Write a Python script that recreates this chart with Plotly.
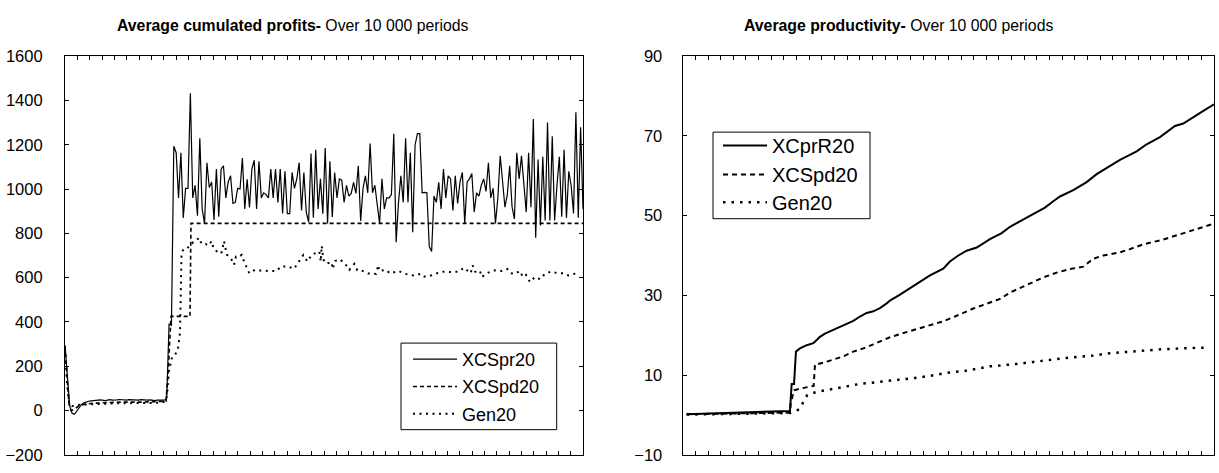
import numpy as np
import plotly.graph_objects as go

W, H = 1219, 473

# ---------------- Left chart: Average cumulated profits ----------------
# XCSpr20 sampled regularly over the 10 000 periods
PR20_VALUES = [
    295, 140, 20, -12, -17, -2, 15, 28, 35, 40, 42,
    44, 46, 45, 47, 48, 46, 45, 47, 49, 47, 46, 48, 50, 48, 46, 47, 49, 48, 46, 45, 47, 49,
    48, 46, 47, 48, 46, 45, 47, 48, 46, 47,
    55, 390, 385, 1193,
    1164, 960, 1164, 870, 1003, 1003, 1432, 960, 1017, 880, 1229, 910, 845, 1119, 1007, 1032,
    860, 1090, 875, 1090, 1105, 960, 1032, 1060, 935, 940, 1003, 1000, 1140, 910, 1044, 917,
    1090, 1130, 910, 1125, 960, 983, 975, 960, 1090, 960, 1090, 940, 1090, 890, 1080, 889,
    889, 1075, 1003, 1046, 1119, 903, 1075, 896, 851, 1160, 870, 1177, 910, 1046, 889, 1185,
    845, 1125, 874, 1075, 960, 1046, 1040, 940, 1017, 968, 980, 1030, 980, 1105, 856, 1003,
    1060, 983, 1205, 983, 1017, 940, 845, 1046, 910, 960, 960, 975, 1250, 760, 940, 1060,
    940, 1229, 940, 1164, 805, 1199, 1250, 1250, 983, 985, 983, 740, 718,
    968, 940, 1030, 910, 1090, 960, 1060, 1046, 903, 1060, 935, 1032, 1075, 845, 1032, 1046,
    1070, 896, 983, 968, 1017, 1046, 989, 1119, 960, 1003, 845, 960, 1150, 1044, 918, 975,
    1105, 920, 865, 1164, 1046, 1150, 1017, 896, 1164, 918, 1316, 780, 1133, 835, 1146, 858,
    1300, 858, 1238, 858, 1017, 1146, 875, 1177, 870, 1080, 1015, 890, 1347, 870, 1279, 910,
]

PD20_PERIODS = [0, 39, 77, 116, 174, 251, 367, 521, 772, 1062, 1448, 1834, 1950, 1998,
                2046, 2413, 2432, 10000]
PD20_VALUES = [290, 150, 30, 0, 5, 18, 28, 33, 36, 38, 38, 40, 42, 200, 425, 425, 845, 845]

GEN20_PERIODS = [
    0, 39, 77, 135, 212, 386, 676, 1062, 1448, 1834,
    1931, 1969, 2008, 2066, 2124, 2181, 2220, 2249, 2272, 2303,
    2349, 2380, 2432, 2477, 2523, 2587, 2639, 2716, 2766, 2832,
    2863, 2915, 2973, 3025, 3070, 3122, 3218, 3263, 3301, 3365,
    3411, 3456, 3519, 3558, 3668, 3764, 3958, 4087, 4164, 4311,
    4421, 4537, 4600, 4678, 4763, 4846, 4910, 4937, 4956, 4975,
    5000, 5052, 5102, 5149, 5168, 5212, 5309, 5342, 5425, 5488,
    5585, 5643, 5728, 5855, 6004, 6048, 6067, 6197, 6274, 6434,
    6583, 6724, 6867, 6930, 7033, 7143, 7303, 7465, 7593, 7703,
    7832, 7871, 7915, 7979, 8012, 8044, 8172, 8301, 8430, 8539,
    8604, 8687, 8784, 8836, 8900, 8977, 9073, 9170, 9266, 9376,
    9523, 9620, 9716, 9813, 9910,
]
GEN20_VALUES = [
    280, 120, 40, 20, 25, 28, 30, 33, 34, 35,
    40, 70, 180, 240, 251, 280, 352, 700, 722, 730,
    730, 738, 752, 760, 765, 780, 752, 752, 745, 765,
    735, 720, 708, 715, 765, 705, 680, 658, 695, 695,
    703, 673, 640, 620, 635, 632, 630, 630, 650, 650,
    640, 680, 702, 673, 703, 712, 718, 673, 744, 707,
    673, 664, 667, 670, 639, 675, 683, 676, 657, 635,
    662, 633, 632, 619, 617, 657, 630, 635, 619, 630,
    617, 610, 617, 605, 607, 617, 627, 625, 627, 645,
    620, 655, 627, 625, 630, 603, 623, 633, 630, 639,
    620, 617, 630, 603, 612, 580, 603, 593, 617, 627,
    620, 620, 610, 617, 620,
]

# ---------------- Right chart: Average productivity ----------------
PRR20_PERIODS = [75, 702, 1455, 1831, 2019, 2051, 2095, 2132, 2207, 2334,
                 2396, 2458, 2522, 2583, 2677, 2772, 2898, 3054, 3211, 3337,
                 3463, 3587, 3713, 3839, 3901, 4090, 4278, 4466, 4654, 4904,
                 5030, 5187, 5345, 5533, 5783, 6004, 6160, 6380, 6598, 6818,
                 6975, 7101, 7351, 7603, 7791, 7980, 8230, 8544, 8732, 8983,
                 9265, 9421, 9673, 9830, 10000]
PRR20_VALUES = [0.2, 0.45, 0.7, 0.85, 1.0, 7.8, 7.8, 15.9, 16.7, 17.5,
                17.8, 18.0, 18.8, 19.6, 20.4, 21.0, 21.6, 22.6, 23.6, 24.7,
                25.6, 26.0, 26.8, 28.0, 28.7, 30.2, 31.8, 33.4, 35.0, 36.7,
                38.5, 40.0, 41.2, 42.0, 44.1, 45.6, 47.2, 48.8, 50.4, 52.0,
                53.6, 54.8, 56.4, 58.4, 60.4, 62.0, 64.0, 66.1, 67.9, 69.7,
                72.5, 73.1, 75.3, 76.5, 77.9]

PDR_PERIODS = [75, 702, 1455, 1831, 2019, 2033, 2095, 2207, 2334, 2428,
               2465, 2490, 2522, 2646, 2834, 3022, 3211, 3399, 3587, 3775,
               3901, 4090, 4372, 4654, 4904, 5125, 5281, 5469, 5721, 5972,
               6160, 6474, 6787, 7039, 7289, 7539, 7728, 7916, 8230, 8418,
               8669, 9045, 9421, 9736, 10000]
PDR_VALUES = [0.2, 0.3, 0.4, 0.5, 0.6, 2.9, 6.2, 6.6, 6.9, 7.2,
              7.3, 12.7, 12.7, 13.1, 13.9, 14.7, 15.9, 16.7, 17.7, 18.7,
              19.5, 20.3, 21.4, 22.5, 23.5, 24.7, 25.7, 26.7, 27.9, 29.1,
              30.7, 32.7, 34.5, 35.7, 36.6, 37.2, 39.2, 40.0, 40.8, 41.6,
              42.8, 44.0, 45.6, 46.8, 48.0]

GENR_PERIODS = [75, 702, 1455, 1831, 2019, 2194, 2270, 2345, 2522, 2678,
                2834, 3022, 3181, 3337, 3493, 3651, 3807, 4090, 4372, 4654,
                4968, 5281, 5783, 6286, 6756, 7227, 7728, 8042, 8544, 9045,
                9547, 9848]
GENR_VALUES = [0.1, 0.2, 0.3, 0.4, 0.5, 1.4, 3.4, 5.0, 5.8, 6.2,
               6.6, 7.0, 7.4, 7.8, 8.0, 8.2, 8.5, 8.9, 9.3, 9.8,
               10.6, 11.0, 12.2, 12.8, 13.6, 14.3, 14.9, 15.5, 16.0, 16.5,
               16.8, 16.9]

LEFT_TICKS = [-200, 0, 200, 400, 600, 800, 1000, 1200, 1400, 1600]
RIGHT_TICKS = [-10, 10, 30, 50, 70, 90]

FONT = "Liberation Sans, Arial, sans-serif"

fig = go.Figure()

x_pr = np.linspace(0, 10000, len(PR20_VALUES))
traces = [
    (x_pr, PR20_VALUES, "XCSpr20", dict(color="black", width=1.2), "x", "y", "legend"),
    (PD20_PERIODS, PD20_VALUES, "XCSpd20", dict(color="black", width=1.6, dash="4px,3px"), "x", "y", "legend2"),
    (GEN20_PERIODS, GEN20_VALUES, "Gen20", dict(color="black", width=2, dash="2px,4.5px"), "x", "y", "legend3"),
    (PRR20_PERIODS, PRR20_VALUES, "XCprR20", dict(color="black", width=2), "x2", "y2", "legend4"),
    (PDR_PERIODS, PDR_VALUES, "XCSpd20", dict(color="black", width=2, dash="5px,4px"), "x2", "y2", "legend5"),
    (GENR_PERIODS, GENR_VALUES, "Gen20", dict(color="black", width=2.5, dash="2.5px,6px"), "x2", "y2", "legend6"),
]
for xs, ys, name, line, xa, ya, lg in traces:
    fig.add_trace(go.Scatter(x=xs, y=ys, mode="lines", name=name, line=line,
                             xaxis=xa, yaxis=ya, legend=lg))

common = dict(showline=True, linecolor="black", linewidth=1.2, mirror="ticks",
              ticks="inside", ticklen=4, tickwidth=1, tickcolor="black",
              showgrid=False, zeroline=False)
tickfont = dict(family=FONT, size=16.5, color="black")

ydom = [(H - 463.5) / H, (H - 49) / H]


def legend_row(x_px, y_px, size):
    return dict(x=x_px / W, y=1 - y_px / H, xanchor="left", yanchor="middle",
                borderwidth=0, bgcolor="rgba(0,0,0,0)", itemwidth=44,
                font=dict(family=FONT, size=size, color="black"))


fig.update_layout(
    width=W, height=H,
    margin=dict(l=0, r=0, t=0, b=0),
    paper_bgcolor="white", plot_bgcolor="white",
    font=dict(family=FONT, color="black"),
    xaxis=dict(domain=[65 / W, 583 / W], range=[0, 10000], tick0=0, dtick=10000 / 42,
               showticklabels=False, anchor="y", **common),
    yaxis=dict(domain=ydom, range=[-200, 1600], tickvals=LEFT_TICKS,
               tickfont=tickfont, ticklabelstandoff=18, anchor="x", **common),
    xaxis2=dict(domain=[682.7 / W, 1214 / W], range=[0, 10000], tick0=0, dtick=10000 / 42,
                showticklabels=False, anchor="y2", **common),
    yaxis2=dict(domain=ydom, range=[-10, 90], tickvals=RIGHT_TICKS,
                tickfont=tickfont, ticklabelstandoff=16, anchor="x2", **common),
    legend=legend_row(408, 364.3, 18),
    legend2=legend_row(408, 392.7, 18),
    legend3=legend_row(408, 421, 18),
    legend4=legend_row(718, 142, 20),
    legend5=legend_row(718, 172, 20),
    legend6=legend_row(718, 201, 20),
    showlegend=True,
)

# legend frames
fig.add_shape(type="rect", xref="paper", yref="paper",
              x0=401 / W, x1=556.7 / W, y0=1 - 437.3 / H, y1=1 - 347.3 / H,
              line=dict(color="black", width=1), fillcolor="rgba(0,0,0,0)", layer="above")
fig.add_shape(type="rect", xref="paper", yref="paper",
              x0=713 / W, x1=870 / W, y0=1 - 218 / H, y1=1 - 128 / H,
              line=dict(color="black", width=1), fillcolor="rgba(0,0,0,0)", layer="above")

fig.add_annotation(x=293 / W, y=1 - 17 / H, xref="paper", yref="paper",
                   text="<b>Average cumulated profits-</b> Over 10 000 periods",
                   showarrow=False, font=dict(family=FONT, size=15.8, color="black"),
                   xanchor="center", yanchor="middle")
fig.add_annotation(x=898 / W, y=1 - 17 / H, xref="paper", yref="paper",
                   text="<b>Average productivity-</b> Over 10 000 periods",
                   showarrow=False, font=dict(family=FONT, size=15.8, color="black"),
                   xanchor="center", yanchor="middle")

POST = (
    "document.documentElement.style.margin='0';"
    "document.documentElement.style.overflow='hidden';"
    "document.body.style.margin='0';"
    "document.body.style.overflow='hidden';"
    "var gd=document.querySelector('.plotly-graph-div');"
    "gd.style.position='fixed';gd.style.left='0px';gd.style.top='0px';"
    "gd.parentElement.style.lineHeight='0';gd.parentElement.style.fontSize='0';"
)
fig.write_html("out.html", config={"displayModeBar": False}, post_script=POST)
